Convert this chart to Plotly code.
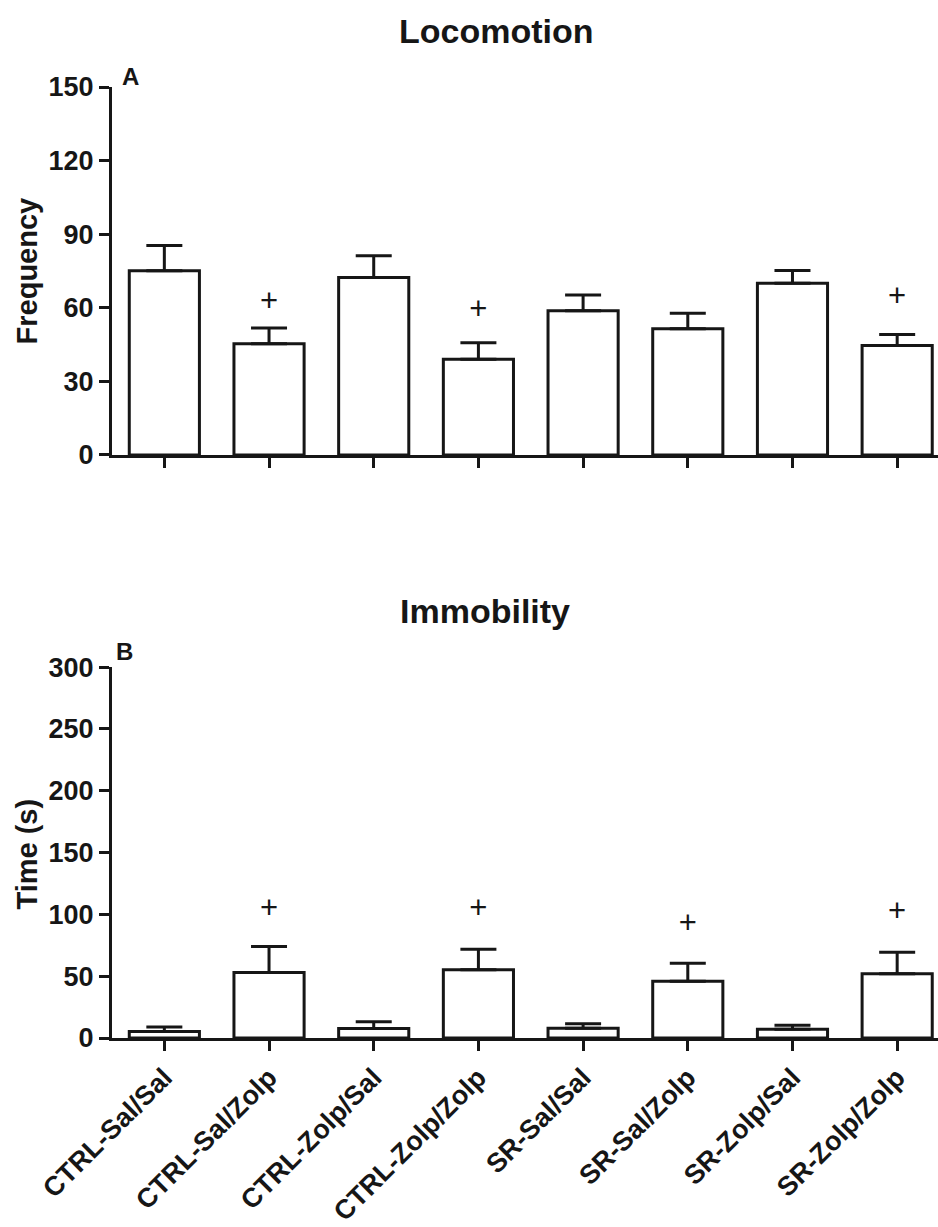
import plotly.graph_objects as go

# Treatment groups
groups = ["CTRL-Sal/Sal", "CTRL-Sal/Zolp", "CTRL-Zolp/Sal", "CTRL-Zolp/Zolp",
          "SR-Sal/Sal", "SR-Sal/Zolp", "SR-Zolp/Sal", "SR-Zolp/Zolp"]

# Panel A: locomotion frequency (mean + SEM)
loco_mean = [75.1, 45.3, 72.3, 39.0, 58.8, 51.4, 70.0, 44.6]
loco_sem = [10.3, 6.5, 8.9, 6.7, 6.4, 6.4, 5.2, 4.5]
loco_sig_idx = [1, 3, 7]
loco_sig_y = [61.9, 58.5, 63.9]

# Panel B: immobility time in seconds (mean + SEM)
immo_mean = [5.2, 53.0, 7.6, 55.2, 7.9, 46.0, 7.1, 52.0]
immo_sem = [3.6, 21.0, 5.6, 16.6, 3.7, 14.4, 3.2, 17.4]
immo_sig_idx = [1, 3, 5, 7]
immo_sig_y = [103.4, 103.5, 91.3, 100.7]

loco_ticks = [0, 30, 60, 90, 120, 150]
immo_ticks = [0, 50, 100, 150, 200, 250, 300]

INK = "#161616"
FONT = "Liberation Sans"
xs = list(range(len(groups)))

fig = go.Figure()


def add_panel(means, sems, sig_idx, sig_y, xaxis, yaxis):
    fig.add_trace(go.Bar(
        x=xs, y=means, width=0.67,
        marker=dict(color="white", line=dict(color=INK, width=3)),
        error_y=dict(type="data", array=sems, arrayminus=[0] * len(sems),
                     symmetric=False, color=INK, thickness=3, width=18),
        xaxis=xaxis, yaxis=yaxis, showlegend=False, hoverinfo="skip",
    ))
    fig.add_trace(go.Scatter(
        x=sig_idx, y=sig_y, mode="text", text=["+"] * len(sig_idx),
        textposition="middle center",
        textfont=dict(family=FONT, size=31, color=INK),
        xaxis=xaxis, yaxis=yaxis, showlegend=False, hoverinfo="skip",
    ))


add_panel(loco_mean, loco_sem, loco_sig_idx, loco_sig_y, "x", "y")
add_panel(immo_mean, immo_sem, immo_sig_idx, immo_sig_y, "x2", "y2")

axis_common = dict(
    showline=True, linecolor=INK, linewidth=3,
    ticks="outside", tickcolor=INK, tickwidth=3, ticklen=10,
    showgrid=False, zeroline=False, fixedrange=True,
)
xrange = [-0.5, 7.39]

fig.update_layout(
    width=938, height=1227,
    margin=dict(l=112, r=0, t=87, b=181),
    paper_bgcolor="white", plot_bgcolor="white",
    bargap=0.33,
    xaxis=dict(domain=[0, 1], anchor="y", range=xrange,
               tickvals=xs, ticktext=groups, showticklabels=False,
               **axis_common),
    yaxis=dict(domain=[0.6131, 1.0], anchor="x", range=[0, 150],
               tickvals=loco_ticks,
               tickfont=dict(family=FONT, size=27, color=INK, weight="bold"),
               **axis_common),
    xaxis2=dict(domain=[0, 1], anchor="y2", range=xrange,
                tickvals=xs, ticktext=groups, tickangle=-45,
                tickfont=dict(family=FONT, size=27, color=INK, weight="bold"),
                **axis_common),
    yaxis2=dict(domain=[0.0, 0.39], anchor="x2", range=[0, 300],
                tickvals=immo_ticks,
                tickfont=dict(family=FONT, size=27, color=INK, weight="bold"),
                **axis_common),
)

annots = [
    dict(text="Locomotion", x=0.466, y=1.0594, size=34),
    dict(text="Immobility", x=0.4516, y=0.4494, size=34),
    dict(text="A", x=0.023, y=1.0115, size=24),
    dict(text="B", x=0.0157, y=0.4067, size=24),
]
for a in annots:
    fig.add_annotation(
        text=a["text"], x=a["x"], y=a["y"], xref="paper", yref="paper",
        xanchor="center", yanchor="middle", showarrow=False,
        font=dict(family=FONT, size=a["size"], color=INK, weight="bold"),
    )

for text, yc in [("Frequency", (1046 - 273) / 959), ("Time (s)", (1046 - 861) / 959)]:
    fig.add_annotation(
        text=text, x=(27 - 112) / 826, y=yc, xref="paper", yref="paper",
        xanchor="center", yanchor="middle", showarrow=False, textangle=-90,
        font=dict(family=FONT, size=29, color=INK, weight="bold"),
    )

fig.write_html("out.html")
